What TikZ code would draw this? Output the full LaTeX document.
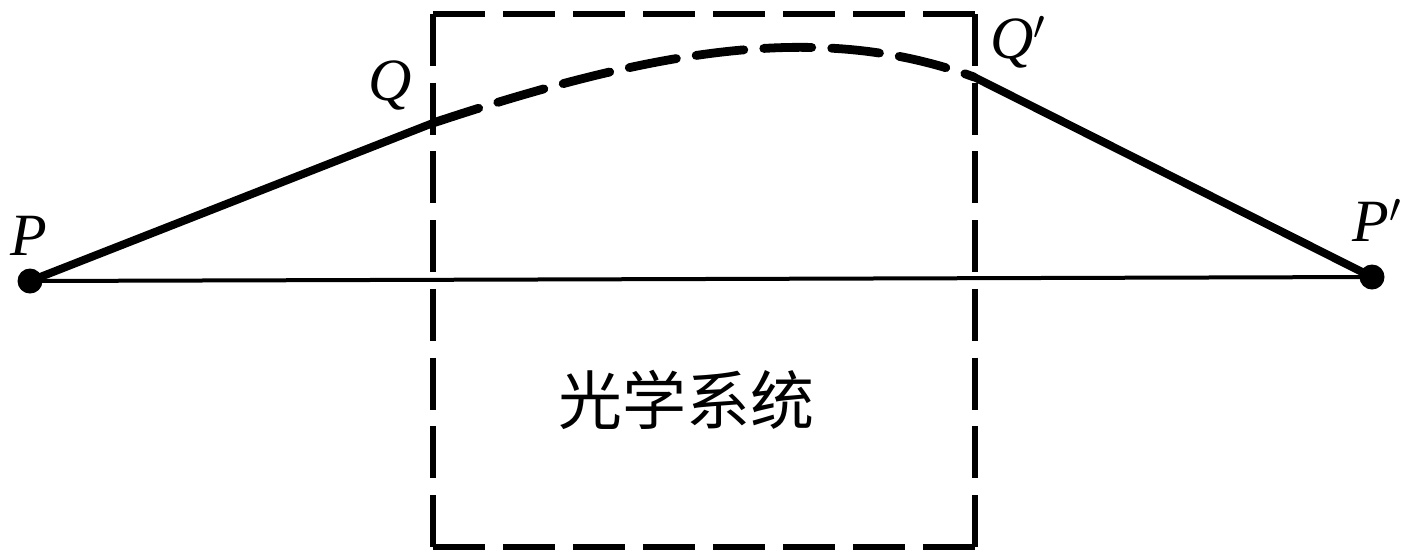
\documentclass[tikz,border=0pt]{standalone}
\usepackage{fontspec}
\setmainfont{Liberation Serif}
\newfontfamily\cjk{Noto Sans CJK SC}
\begin{document}
\begin{tikzpicture}[x=0.5pt,y=-0.5pt,
  boxh/.style={line width=2.6pt, dash pattern=on 26pt off 9pt},
  boxv/.style={line width=2.6pt, dash pattern=on 26pt off 8.36pt},
  rayline/.style={line width=4pt},
  raydash/.style={line width=4.4pt, line cap=round, dash pattern=on 24pt off 10pt},
  axisline/.style={line width=2pt},
  dotnode/.style={circle, fill=black, inner sep=0pt, minimum size=12.5pt},
  lbl/.style={inner sep=0pt, anchor=base west, font=\fontsize{30}{36}\selectfont\itshape},
  cjklabel/.style={inner sep=0pt, font=\cjk\fontsize{32}{38}\selectfont}]
\useasboundingbox (0,0) rectangle (1416,559);
% optical system box
\coordinate (BL) at (433,547);
\coordinate (BR) at (975,547);
\coordinate (TL) at (433,14);
\coordinate (TR) at (975,14);
\draw[boxh] (TL) -- (TR);
\draw[boxh] (BL) -- (BR);
\draw[boxv] (TL) -- (BL);
\draw[boxv] (TR) -- (BR);
% points
\node[dotnode] (P) at (30,281) {};
\node[dotnode] (Pp) at (1372,277) {};
\coordinate (Q) at (433,123);
\coordinate (Qp) at (974,77);
% axis
\draw[axisline] (P.center) -- (Pp.center);
% ray
\draw[rayline] (P.center) -- (Q);
\draw[raydash] (Q) .. controls (662,47) and (823,22) .. (Qp);
\draw[rayline] (Qp) -- (Pp.center);
% labels
\node[lbl] (lP) at (10,255) {P};
\node[lbl] (lPp) at (1352,241) {P$'$};
\node[lbl] (lQ) at (368,100) {Q};
\node[lbl] (lQp) at (990,58) {Q$'$};
\node[cjklabel] (sys) at (686,400) {光学系统};
\end{tikzpicture}
\end{document}
